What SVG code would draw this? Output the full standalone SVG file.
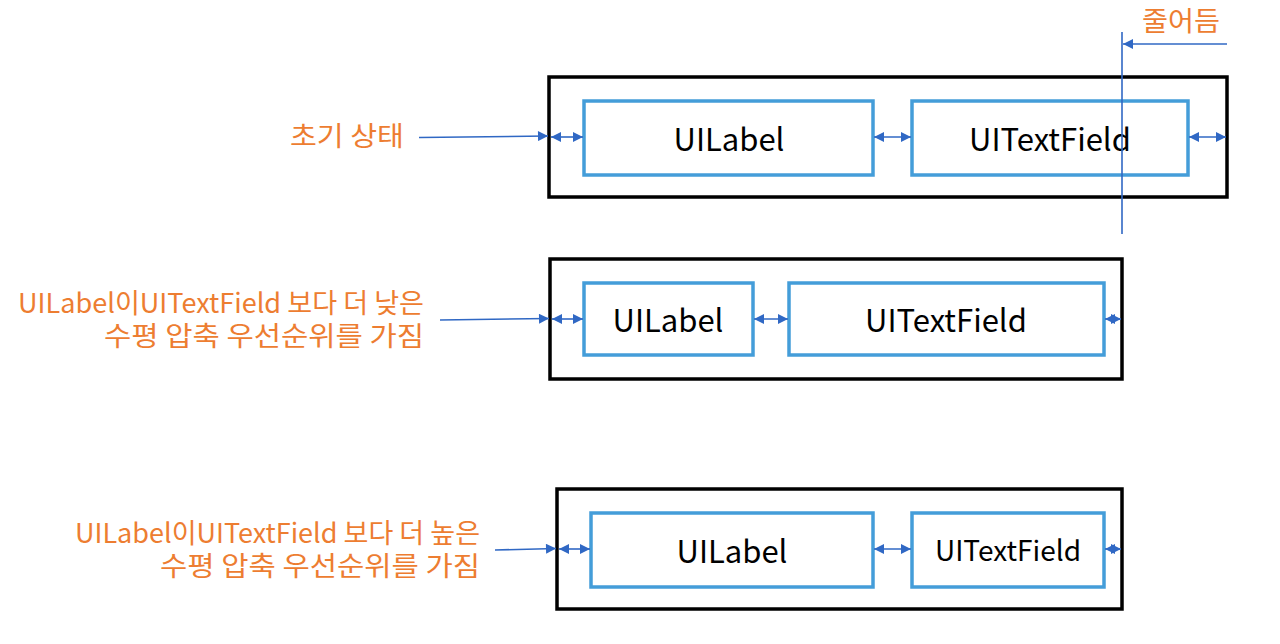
<svg xmlns="http://www.w3.org/2000/svg" width="1280" height="644" viewBox="0 0 1280 644">
<style>
.outer{fill:#fff;stroke:#000;stroke-width:3.5}
.inner{fill:#fff;stroke:#449DD9;stroke-width:3.5}
.name{font-family:"Noto Sans CJK KR","Noto Sans",sans-serif;font-size:31px;fill:#000;text-anchor:middle}
.lab{font-family:"Noto Sans CJK KR","Noto Sans",sans-serif;font-size:27px;fill:#ED7D31}
.con{stroke:#3068C4;stroke-width:1.6;fill:none}
</style>
<defs>
<marker id="ah" viewBox="0 0 10 10" refX="10" refY="5" markerWidth="11" markerHeight="10" markerUnits="userSpaceOnUse" orient="auto-start-reverse">
<path d="M0,0 L10,5 L0,10 Z" fill="#3068C4"/>
</marker>
</defs>
<g id="panel1">
<rect class="outer" x="549" y="77" width="678" height="120"/>
<g id="p1-uilabel"><rect class="inner" x="584" y="101" width="289" height="74"/><text class="name" x="729" y="151">UILabel</text></g>
<g id="p1-uitextfield"><rect class="inner" x="912" y="101" width="276" height="74"/><text class="name" x="1050" y="151">UITextField</text></g>
</g>
<g id="panel2">
<rect class="outer" x="550" y="259" width="572" height="120"/>
<g id="p2-uilabel"><rect class="inner" x="584" y="283" width="169" height="72"/><text class="name" x="668" y="332">UILabel</text></g>
<g id="p2-uitextfield"><rect class="inner" x="789" y="283" width="315" height="72"/><text class="name" x="946" y="332">UITextField</text></g>
</g>
<g id="panel3">
<rect class="outer" x="557" y="489" width="565" height="120"/>
<g id="p3-uilabel"><rect class="inner" x="591" y="513" width="282" height="74"/><text class="name" x="732" y="563">UILabel</text></g>
<g id="p3-uitextfield"><rect class="inner" x="912" y="513" width="192" height="74"/><text class="name" x="1008" y="561" style="font-size:28px">UITextField</text></g>
</g>
<g id="labels">
<text class="lab" x="290" y="146" textLength="114" lengthAdjust="spacingAndGlyphs">초기 상태</text>
<text class="lab"><tspan x="18" y="313" textLength="406" lengthAdjust="spacingAndGlyphs">UILabel이UITextField 보다 더 낮은</tspan><tspan x="104" y="346" textLength="320" lengthAdjust="spacingAndGlyphs">수평 압축 우선순위를 가짐</tspan></text>
<text class="lab"><tspan x="75" y="543" textLength="405" lengthAdjust="spacingAndGlyphs">UILabel이UITextField 보다 더 높은</tspan><tspan x="160" y="576" textLength="320" lengthAdjust="spacingAndGlyphs">수평 압축 우선순위를 가짐</tspan></text>
<text class="lab" x="1142" y="31" textLength="78" lengthAdjust="spacingAndGlyphs">줄어듬</text>
</g>
<g id="connectors">
<line class="con" x1="419" y1="137.5" x2="548" y2="136" marker-end="url(#ah)"/>
<line class="con" x1="551" y1="137" x2="583" y2="137" marker-start="url(#ah)" marker-end="url(#ah)"/>
<line class="con" x1="874" y1="137" x2="911" y2="137" marker-start="url(#ah)" marker-end="url(#ah)"/>
<line class="con" x1="1189" y1="137" x2="1226" y2="137" marker-start="url(#ah)" marker-end="url(#ah)"/>
<line class="con" x1="1122" y1="32" x2="1122" y2="234"/>
<line class="con" x1="1227" y1="44" x2="1123" y2="44" marker-end="url(#ah)"/>
<line class="con" x1="440" y1="320" x2="549" y2="318.5" marker-end="url(#ah)"/>
<line class="con" x1="552" y1="319" x2="583" y2="319" marker-start="url(#ah)" marker-end="url(#ah)"/>
<line class="con" x1="754" y1="319" x2="788" y2="319" marker-start="url(#ah)" marker-end="url(#ah)"/>
<line class="con" x1="1105" y1="319" x2="1121" y2="319" marker-start="url(#ah)" marker-end="url(#ah)"/>
<line class="con" x1="495" y1="550" x2="556" y2="548.5" marker-end="url(#ah)"/>
<line class="con" x1="559" y1="549" x2="590" y2="549" marker-start="url(#ah)" marker-end="url(#ah)"/>
<line class="con" x1="874" y1="549" x2="911" y2="549" marker-start="url(#ah)" marker-end="url(#ah)"/>
<line class="con" x1="1105" y1="549" x2="1121" y2="549" marker-start="url(#ah)" marker-end="url(#ah)"/>
</g>
</svg>
